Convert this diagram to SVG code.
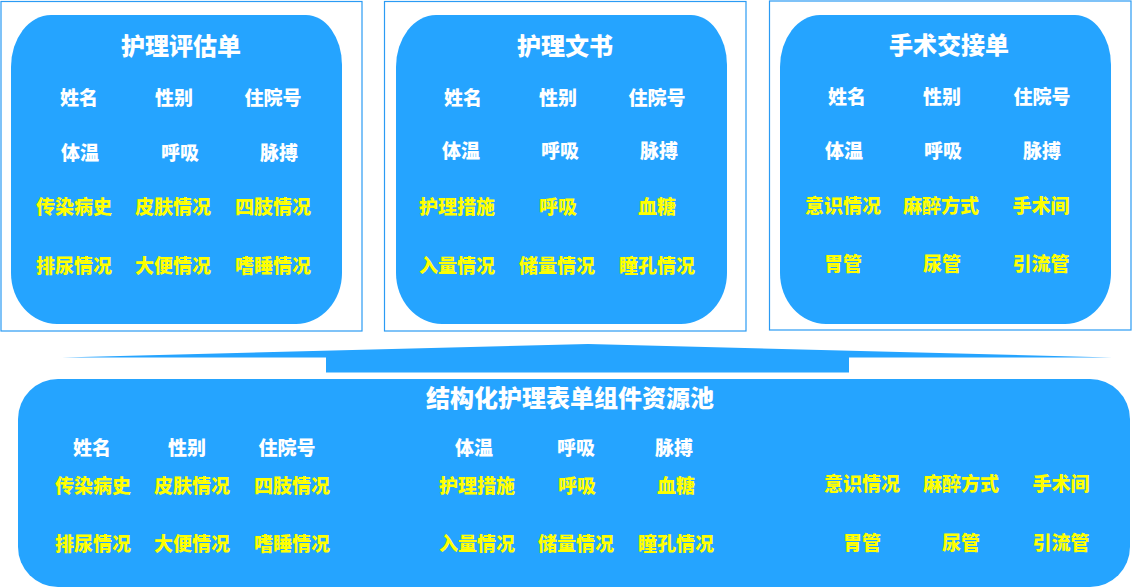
<svg xmlns="http://www.w3.org/2000/svg" width="1132" height="588" viewBox="0 0 1132 588">
<defs>
<style>
.frame{fill:#fff;stroke:#2B9BF4;stroke-width:1.2}
.card{fill:#25A4FF}
text{font-family:"Noto Sans CJK SC","Noto Sans",sans-serif;font-weight:900;text-anchor:middle;dominant-baseline:central}
.t{font-size:24px;fill:#fff}
.w{font-size:19px;fill:#fff}
.y{font-size:19px;fill:#FFFF00}
</style>
<path id="cardShape" d="M40 0 H295 A36 50 0 0 1 331 50 V258 A46 51 0 0 1 285 309 H46 A46 51 0 0 1 0 258 V52 A40 52 0 0 1 40 0 Z"/>
</defs>
<rect width="1132" height="588" fill="#fff"/>

<g id="node-assessment">
<rect class="frame" x="1" y="1.5" width="361" height="329.5"/>
<use href="#cardShape" class="card" x="11" y="15"/>
<text class="t" x="181" y="44">护理评估单</text>
<text class="w" x="79" y="96">姓名</text><text class="w" x="174" y="96">性别</text><text class="w" x="273" y="96">住院号</text>
<text class="w" x="80" y="151">体温</text><text class="w" x="180" y="151">呼吸</text><text class="w" x="279" y="151">脉搏</text>
<text class="y" x="74" y="205">传染病史</text><text class="y" x="173" y="205">皮肤情况</text><text class="y" x="273" y="205">四肢情况</text>
<text class="y" x="74" y="264">排尿情况</text><text class="y" x="173" y="264">大便情况</text><text class="y" x="273" y="264">嗜睡情况</text>
</g>

<g id="node-document">
<rect class="frame" x="384.5" y="1.5" width="361.5" height="329.5"/>
<use href="#cardShape" class="card" x="396" y="15"/>
<text class="t" x="565" y="44">护理文书</text>
<text class="w" x="463" y="96">姓名</text><text class="w" x="558" y="96">性别</text><text class="w" x="657" y="96">住院号</text>
<text class="w" x="461" y="149">体温</text><text class="w" x="560" y="149">呼吸</text><text class="w" x="659" y="149">脉搏</text>
<text class="y" x="457" y="205">护理措施</text><text class="y" x="558" y="205">呼吸</text><text class="y" x="657" y="205">血糖</text>
<text class="y" x="457" y="264">入量情况</text><text class="y" x="557" y="264">储量情况</text><text class="y" x="657" y="264">瞳孔情况</text>
</g>

<g id="node-handover">
<rect class="frame" x="769.5" y="1" width="361.5" height="329"/>
<use href="#cardShape" class="card" x="780" y="15"/>
<text class="t" x="949" y="43">手术交接单</text>
<text class="w" x="847" y="95">姓名</text><text class="w" x="942" y="95">性别</text><text class="w" x="1042" y="95">住院号</text>
<text class="w" x="844" y="149">体温</text><text class="w" x="943" y="149">呼吸</text><text class="w" x="1042" y="149">脉搏</text>
<text class="y" x="843" y="204">意识情况</text><text class="y" x="941" y="204">麻醉方式</text><text class="y" x="1041" y="204">手术间</text>
<text class="y" x="843" y="262">胃管</text><text class="y" x="942" y="262">尿管</text><text class="y" x="1041" y="262">引流管</text>
</g>

<g id="connectors">
<path class="card" d="M62 357.5 L588 344 L1112 357.5 L849 357.5 L849 372.5 L326 372.5 L326 357.5 Z"/>
</g>

<g id="node-pool">
<rect class="card" x="18" y="379" width="1112" height="208" rx="40" ry="40"/>
<text class="t" x="570" y="396">结构化护理表单组件资源池</text>
<text class="w" x="92" y="446">姓名</text><text class="w" x="187" y="446">性别</text><text class="w" x="287" y="446">住院号</text>
<text class="w" x="474" y="446">体温</text><text class="w" x="576" y="446">呼吸</text><text class="w" x="674" y="446">脉搏</text>
<text class="y" x="93" y="484">传染病史</text><text class="y" x="192" y="484">皮肤情况</text><text class="y" x="292" y="484">四肢情况</text>
<text class="y" x="477" y="484">护理措施</text><text class="y" x="577" y="484">呼吸</text><text class="y" x="676" y="484">血糖</text>
<text class="y" x="862" y="482">意识情况</text><text class="y" x="961" y="482">麻醉方式</text><text class="y" x="1061" y="482">手术间</text>
<text class="y" x="93" y="542">排尿情况</text><text class="y" x="192" y="542">大便情况</text><text class="y" x="292" y="542">嗜睡情况</text>
<text class="y" x="477" y="542">入量情况</text><text class="y" x="576" y="542">储量情况</text><text class="y" x="676" y="542">瞳孔情况</text>
<text class="y" x="862" y="541">胃管</text><text class="y" x="961" y="541">尿管</text><text class="y" x="1061" y="541">引流管</text>
</g>
</svg>
